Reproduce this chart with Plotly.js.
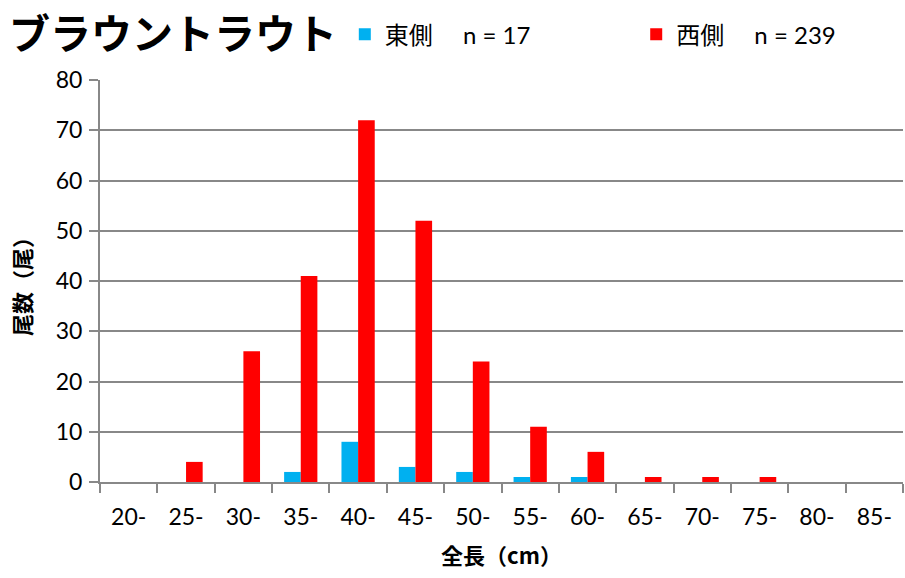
<!DOCTYPE html>
<html><head><meta charset="utf-8">
<script src="https://cdn.plot.ly/plotly-3.0.1.min.js"></script>
<style>html,body{margin:0;padding:0;background:#fff}#chart{width:905px;height:578px}</style>
</head><body><div id="chart"></div>
<script>
const categories = ["20-","25-","30-","35-","40-","45-","50-","55-","60-","65-","70-","75-","80-","85-"];
const eastValues = [0,0,0,2,8,3,2,1,1,0,0,0,0,0];
const westValues = [0,4,26,41,72,52,24,11,6,1,1,1,0,0];
const eastName = "東側　 n = 17";
const westName = "西側　 n = 239";
const yTicks = [0,10,20,30,40,50,60,70,80];

const fontFam = "Lato, 'Noto Sans CJK JP', sans-serif";
const cjk = "'Noto Sans CJK JP', sans-serif";
const traces = [
  {type:"bar", x:categories, y:eastValues, name:eastName, marker:{color:"#00B0F0"}, legend:"legend"},
  {type:"bar", x:categories, y:westValues, name:westName, marker:{color:"#FF0000"}, legend:"legend2"}
];
const legFont = {family:fontFam, size:24, color:"#000"};
const layout = {
  width:905, height:578,
  margin:{l:100, r:2, t:80, b:96, autoexpand:false},
  paper_bgcolor:"#fff", plot_bgcolor:"#fff",
  barmode:"group", bargap:0.42, bargroupgap:0,
  font:{family:fontFam, size:23, color:"#000"},
  title:{text:"<b>ブラウントラウト</b>", x:0.01, xanchor:"left", xref:"container", y:0.94, yanchor:"middle", yref:"container",
         font:{family:cjk, size:41, color:"#000"}},
  showlegend:true,
  legend:{orientation:"h", xref:"container", yref:"container", x:0.381, xanchor:"left", y:0.94, yanchor:"middle",
          font:legFont, bgcolor:"rgba(0,0,0,0)"},
  legend2:{orientation:"h", xref:"container", yref:"container", x:0.703, xanchor:"left", y:0.94, yanchor:"middle",
          font:legFont, bgcolor:"rgba(0,0,0,0)"},
  xaxis:{type:"category", tickson:"boundaries", ticks:"outside", ticklen:9, tickcolor:"#888", tickwidth:2,
         showline:true, linecolor:"#888", linewidth:2, showgrid:false, ticklabelstandoff:13,
         tickfont:{family:fontFam, size:23}, title:{text:"<b>全長（cm）</b>", standoff:20,
         font:{family:cjk, size:22}}},
  yaxis:{range:[0,80], tickvals:yTicks, ticks:"outside", ticklen:9, tickcolor:"#888", tickwidth:2,
         showline:true, linecolor:"#888", linewidth:2, showgrid:true, gridcolor:"#888", gridwidth:2,
         zeroline:false, tickfont:{family:fontFam, size:23}, ticklabelstandoff:2,
         title:{text:"<b>尾数（尾）</b>", standoff:18, font:{family:cjk, size:22}}}
};
Plotly.newPlot("chart", traces, layout, {displayModeBar:false, staticPlot:true});
</script></body></html>
